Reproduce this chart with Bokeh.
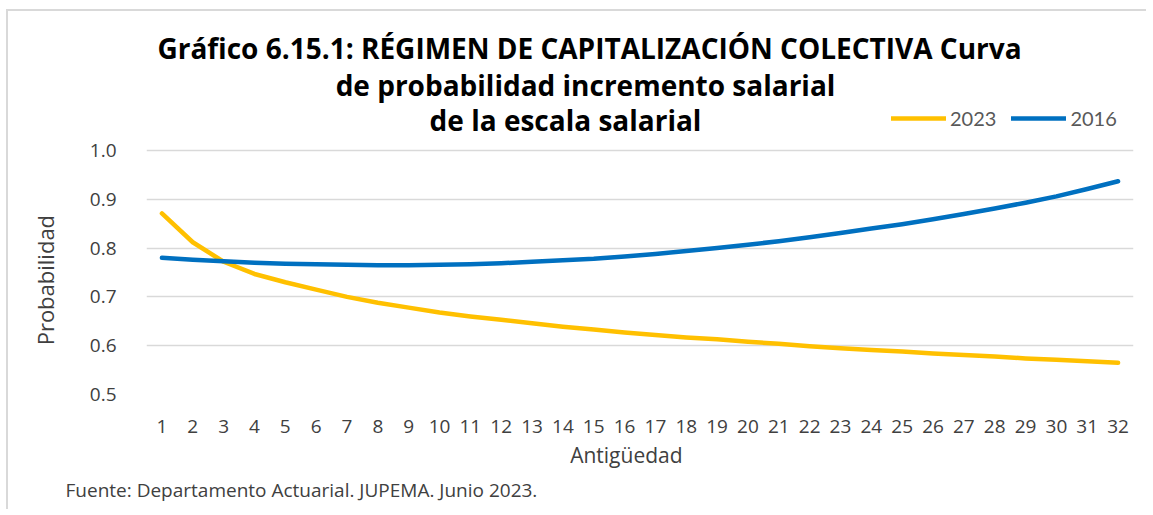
from bokeh.plotting import figure
from bokeh.models import (Label, Legend, LegendItem, FactorRange, Range1d, FixedTicker,
                          CustomJSTickFormatter, Title)
from bokeh.embed import file_html
from bokeh.resources import INLINE

antiguedad = [str(i) for i in range(1, 33)]
prob_2023 = [0.871, 0.812, 0.772, 0.747, 0.730, 0.715, 0.700, 0.688, 0.678, 0.668,
             0.660, 0.653, 0.646, 0.639, 0.633, 0.627, 0.622, 0.617, 0.613, 0.608,
             0.604, 0.599, 0.595, 0.591, 0.588, 0.584, 0.581, 0.578, 0.574, 0.571,
             0.568, 0.565]
prob_2016 = [0.780, 0.776, 0.773, 0.770, 0.768, 0.767, 0.766, 0.765, 0.765, 0.766,
             0.767, 0.769, 0.772, 0.775, 0.778, 0.783, 0.788, 0.794, 0.800, 0.807,
             0.814, 0.822, 0.831, 0.840, 0.849, 0.859, 0.870, 0.881, 0.893, 0.906,
             0.921, 0.937]
y_ticks = [0.5, 0.6, 0.7, 0.8, 0.9, 1.0]
series_names = ["2023", "2016"]
title_lines = ["Gráfico 6.15.1: RÉGIMEN DE CAPITALIZACIÓN COLECTIVA Curva",
               "de probabilidad incremento salarial",
               "de la escala salarial"]
x_title = "Antigüedad"
y_title = "Probabilidad"
source_text = "Fuente: Departamento Actuarial. JUPEMA. Junio 2023."

FONT = "Open Sans"
TXT = "#404040"
NBSP = "\u00a0"
W, H = 1140, 500
p = figure(width=W, height=H, x_range=FactorRange(*antiguedad), y_range=Range1d(0.5, 1.2848),
           output_backend="svg", toolbar_location=None,
           min_border_left=138, min_border_right=15, min_border_top=0, min_border_bottom=117)
p.styles = {"border-top": "2px solid #d9d9d9", "border-left": "2px solid #d9d9d9",
            "margin-top": "9px", "margin-left": "6px"}
p.outline_line_color = None
p.background_fill_color = "white"
p.border_fill_color = "white"
p.x_range.range_padding = 0

p.xgrid.grid_line_color = None
p.ygrid.grid_line_color = "#d9d9d9"
p.ygrid.grid_line_width = 1.5
p.yaxis.ticker = FixedTicker(ticks=y_ticks)
p.yaxis.formatter = CustomJSTickFormatter(code="return tick.toFixed(1);")
p.yaxis.bounds = (0.5, 1.0)

for ax in (p.xaxis[0], p.yaxis[0]):
    ax.axis_line_color = None
    ax.major_tick_line_color = None
    ax.minor_tick_line_color = None
    ax.major_label_text_font = FONT
    ax.major_label_text_font_size = "19px"
    ax.major_label_text_color = TXT
    ax.axis_label_text_font = FONT
    ax.axis_label_text_font_style = "normal"
    ax.axis_label_text_color = TXT

# trailing no-break spaces shift the centred axis titles to sit like the reference
p.xaxis.axis_label = x_title + NBSP * 5
p.xaxis.axis_label_text_font_size = "21px"
p.xaxis.major_label_standoff = 19
p.xaxis.axis_label_standoff = 5
p.yaxis.axis_label = y_title + NBSP * 27
p.yaxis.axis_label_text_font_size = "22px"
p.yaxis.major_label_standoff = 24
p.yaxis.axis_label_standoff = 27

r1 = p.line(antiguedad, prob_2023, line_color="#FFC000", line_width=4.5, line_cap="round", line_join="round")
r2 = p.line(antiguedad, prob_2016, line_color="#0070C0", line_width=4.5, line_cap="round", line_join="round")

legend = Legend(items=[LegendItem(label=series_names[0], renderers=[r1]),
                       LegendItem(label=series_names[1], renderers=[r2])],
                orientation="horizontal", location=(745, 264),
                label_text_font="Lato", label_text_font_size="20px", label_text_color="#595959",
                glyph_width=55, glyph_height=20, label_standoff=4, spacing=15,
                padding=0, margin=0, border_line_color=None, background_fill_alpha=0)
p.add_layout(legend, "center")

title_x = [443, 439, 419]
title_y = [347, 310, 275]
for txt, tx, ty in zip(title_lines, title_x, title_y):
    p.add_layout(Label(x=tx, y=ty, x_units="screen", y_units="screen", text=txt,
                       text_font=FONT, text_font_style="bold", text_font_size="28px",
                       text_align="center", text_baseline="alphabetic", text_color="black"))

p.add_layout(Title(text=source_text, align="left", offset=-81, standoff=6,
                   text_font=FONT, text_font_size="19px", text_font_style="normal",
                   text_color=TXT), "below")

open("out.html", "w").write(file_html(p, INLINE))
